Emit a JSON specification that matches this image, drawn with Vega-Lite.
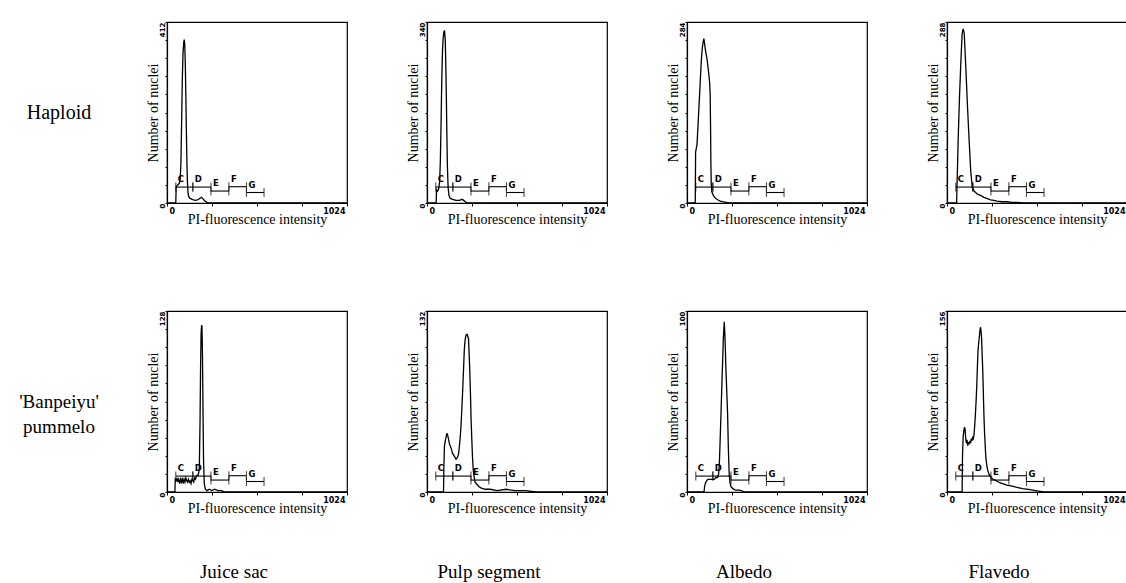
{
"$schema":"https://vega.github.io/schema/vega-lite/v6.json",
"background":"white",
"padding":{"left":0,"top":20,"right":0,"bottom":0},
"datasets":{
"gates":[
{"g":"C","x0":50,"x1":147,"lv":0.088},
{"g":"D","x0":147,"x1":250,"lv":0.088},
{"g":"E","x0":250,"x1":352,"lv":0.066},
{"g":"F","x0":352,"x1":452,"lv":0.09},
{"g":"G","x0":452,"x1":552,"lv":0.058}
],
"hist":[
{"p":"h1","x":0,"n":0},{"p":"h1","x":50,"n":0},{"p":"h1","x":52,"n":36},{"p":"h1","x":58,"n":40},{"p":"h1","x":64,"n":42},{"p":"h1","x":70,"n":45},{"p":"h1","x":75,"n":55},{"p":"h1","x":79,"n":90},{"p":"h1","x":83,"n":180},{"p":"h1","x":87,"n":280},{"p":"h1","x":91,"n":340},{"p":"h1","x":95,"n":365},{"p":"h1","x":98,"n":372},{"p":"h1","x":101,"n":360},{"p":"h1","x":104,"n":320},{"p":"h1","x":107,"n":250},{"p":"h1","x":110,"n":170},{"p":"h1","x":113,"n":100},{"p":"h1","x":116,"n":50},{"p":"h1","x":119,"n":25},{"p":"h1","x":123,"n":15},{"p":"h1","x":130,"n":11},{"p":"h1","x":140,"n":9},{"p":"h1","x":150,"n":7},{"p":"h1","x":165,"n":6},{"p":"h1","x":178,"n":8},{"p":"h1","x":188,"n":11},{"p":"h1","x":196,"n":13},{"p":"h1","x":204,"n":10},{"p":"h1","x":214,"n":5},{"p":"h1","x":225,"n":2},{"p":"h1","x":236,"n":0},{"p":"h1","x":1024,"n":0},
{"p":"h2","x":0,"n":0},{"p":"h2","x":52,"n":0},{"p":"h2","x":54,"n":25},{"p":"h2","x":60,"n":22},{"p":"h2","x":66,"n":26},{"p":"h2","x":72,"n":40},{"p":"h2","x":76,"n":80},{"p":"h2","x":80,"n":150},{"p":"h2","x":84,"n":230},{"p":"h2","x":88,"n":285},{"p":"h2","x":92,"n":310},{"p":"h2","x":96,"n":322},{"p":"h2","x":100,"n":323},{"p":"h2","x":104,"n":305},{"p":"h2","x":107,"n":260},{"p":"h2","x":110,"n":200},{"p":"h2","x":113,"n":130},{"p":"h2","x":116,"n":70},{"p":"h2","x":120,"n":30},{"p":"h2","x":125,"n":14},{"p":"h2","x":132,"n":9},{"p":"h2","x":145,"n":7},{"p":"h2","x":165,"n":5},{"p":"h2","x":185,"n":5},{"p":"h2","x":200,"n":7},{"p":"h2","x":212,"n":4},{"p":"h2","x":222,"n":1},{"p":"h2","x":230,"n":0},{"p":"h2","x":1024,"n":0},
{"p":"h3","x":0,"n":0},{"p":"h3","x":47,"n":0},{"p":"h3","x":49,"n":80},{"p":"h3","x":53,"n":86},{"p":"h3","x":57,"n":92},{"p":"h3","x":62,"n":118},{"p":"h3","x":67,"n":145},{"p":"h3","x":72,"n":172},{"p":"h3","x":77,"n":200},{"p":"h3","x":82,"n":226},{"p":"h3","x":87,"n":243},{"p":"h3","x":92,"n":253},{"p":"h3","x":96,"n":258},{"p":"h3","x":100,"n":250},{"p":"h3","x":105,"n":240},{"p":"h3","x":110,"n":232},{"p":"h3","x":115,"n":224},{"p":"h3","x":120,"n":212},{"p":"h3","x":125,"n":200},{"p":"h3","x":129,"n":188},{"p":"h3","x":132,"n":170},{"p":"h3","x":134,"n":120},{"p":"h3","x":136,"n":60},{"p":"h3","x":138,"n":30},{"p":"h3","x":141,"n":18},{"p":"h3","x":150,"n":12},{"p":"h3","x":160,"n":8},{"p":"h3","x":174,"n":5},{"p":"h3","x":190,"n":3},{"p":"h3","x":203,"n":2},{"p":"h3","x":222,"n":1},{"p":"h3","x":240,"n":0},{"p":"h3","x":1024,"n":0},
{"p":"h4","x":0,"n":0},{"p":"h4","x":55,"n":0},{"p":"h4","x":57,"n":30},{"p":"h4","x":60,"n":60},{"p":"h4","x":64,"n":105},{"p":"h4","x":71,"n":168},{"p":"h4","x":79,"n":226},{"p":"h4","x":86,"n":269},{"p":"h4","x":92,"n":277},{"p":"h4","x":98,"n":270},{"p":"h4","x":107,"n":216},{"p":"h4","x":116,"n":157},{"p":"h4","x":126,"n":99},{"p":"h4","x":135,"n":51},{"p":"h4","x":144,"n":24},{"p":"h4","x":154,"n":19},{"p":"h4","x":173,"n":14},{"p":"h4","x":191,"n":12},{"p":"h4","x":210,"n":9},{"p":"h4","x":229,"n":7},{"p":"h4","x":248,"n":5},{"p":"h4","x":266,"n":4},{"p":"h4","x":285,"n":3},{"p":"h4","x":313,"n":2},{"p":"h4","x":341,"n":2},{"p":"h4","x":370,"n":1},{"p":"h4","x":398,"n":1},{"p":"h4","x":435,"n":0},{"p":"h4","x":1024,"n":0},
{"p":"b1","x":0,"n":0},{"p":"b1","x":45,"n":0},{"p":"b1","x":47,"n":9},{"p":"b1","x":52,"n":8},{"p":"b1","x":57,"n":10},{"p":"b1","x":62,"n":7},{"p":"b1","x":67,"n":9},{"p":"b1","x":72,"n":6},{"p":"b1","x":77,"n":9},{"p":"b1","x":82,"n":7},{"p":"b1","x":87,"n":10},{"p":"b1","x":92,"n":6},{"p":"b1","x":97,"n":9},{"p":"b1","x":102,"n":7},{"p":"b1","x":107,"n":10},{"p":"b1","x":112,"n":8},{"p":"b1","x":117,"n":7},{"p":"b1","x":122,"n":9},{"p":"b1","x":127,"n":7},{"p":"b1","x":132,"n":8},{"p":"b1","x":137,"n":6},{"p":"b1","x":142,"n":9},{"p":"b1","x":147,"n":8},{"p":"b1","x":152,"n":7},{"p":"b1","x":157,"n":10},{"p":"b1","x":162,"n":9},{"p":"b1","x":167,"n":11},{"p":"b1","x":172,"n":12},{"p":"b1","x":177,"n":12},{"p":"b1","x":181,"n":14},{"p":"b1","x":184,"n":18},{"p":"b1","x":188,"n":50},{"p":"b1","x":191,"n":88},{"p":"b1","x":194,"n":112},{"p":"b1","x":197,"n":118},{"p":"b1","x":199,"n":117},{"p":"b1","x":202,"n":95},{"p":"b1","x":205,"n":55},{"p":"b1","x":208,"n":22},{"p":"b1","x":212,"n":6},{"p":"b1","x":218,"n":2},{"p":"b1","x":228,"n":1},{"p":"b1","x":240,"n":2},{"p":"b1","x":255,"n":1},{"p":"b1","x":270,"n":2},{"p":"b1","x":290,"n":1},{"p":"b1","x":310,"n":1},{"p":"b1","x":330,"n":0},{"p":"b1","x":1024,"n":0},
{"p":"b2","x":0,"n":0},{"p":"b2","x":94,"n":0},{"p":"b2","x":96,"n":18},{"p":"b2","x":99,"n":33},{"p":"b2","x":105,"n":38},{"p":"b2","x":110,"n":41},{"p":"b2","x":114,"n":43},{"p":"b2","x":118,"n":41},{"p":"b2","x":122,"n":39},{"p":"b2","x":128,"n":35},{"p":"b2","x":137,"n":32},{"p":"b2","x":146,"n":28},{"p":"b2","x":156,"n":26},{"p":"b2","x":165,"n":24},{"p":"b2","x":173,"n":25},{"p":"b2","x":180,"n":28},{"p":"b2","x":184,"n":33},{"p":"b2","x":189,"n":40},{"p":"b2","x":193,"n":47},{"p":"b2","x":198,"n":60},{"p":"b2","x":203,"n":74},{"p":"b2","x":208,"n":90},{"p":"b2","x":212,"n":103},{"p":"b2","x":216,"n":110},{"p":"b2","x":221,"n":114},{"p":"b2","x":225,"n":115},{"p":"b2","x":229,"n":115},{"p":"b2","x":233,"n":113},{"p":"b2","x":236,"n":112},{"p":"b2","x":240,"n":100},{"p":"b2","x":244,"n":86},{"p":"b2","x":248,"n":68},{"p":"b2","x":251,"n":52},{"p":"b2","x":255,"n":38},{"p":"b2","x":259,"n":25},{"p":"b2","x":263,"n":16},{"p":"b2","x":268,"n":11},{"p":"b2","x":274,"n":7},{"p":"b2","x":281,"n":6},{"p":"b2","x":295,"n":4},{"p":"b2","x":306,"n":3},{"p":"b2","x":330,"n":2},{"p":"b2","x":360,"n":2},{"p":"b2","x":400,"n":1},{"p":"b2","x":450,"n":2},{"p":"b2","x":500,"n":1},{"p":"b2","x":560,"n":1},{"p":"b2","x":620,"n":0},{"p":"b2","x":1024,"n":0},
{"p":"b3","x":0,"n":0},{"p":"b3","x":97,"n":0},{"p":"b3","x":100,"n":3},{"p":"b3","x":105,"n":5},{"p":"b3","x":111,"n":6},{"p":"b3","x":118,"n":7},{"p":"b3","x":126,"n":7},{"p":"b3","x":135,"n":7},{"p":"b3","x":146,"n":7},{"p":"b3","x":155,"n":7},{"p":"b3","x":165,"n":8},{"p":"b3","x":174,"n":8},{"p":"b3","x":180,"n":10},{"p":"b3","x":185,"n":18},{"p":"b3","x":189,"n":30},{"p":"b3","x":194,"n":45},{"p":"b3","x":199,"n":61},{"p":"b3","x":203,"n":73},{"p":"b3","x":206,"n":83},{"p":"b3","x":209,"n":89},{"p":"b3","x":212,"n":94},{"p":"b3","x":215,"n":88},{"p":"b3","x":218,"n":80},{"p":"b3","x":221,"n":69},{"p":"b3","x":226,"n":56},{"p":"b3","x":231,"n":43},{"p":"b3","x":235,"n":25},{"p":"b3","x":240,"n":10},{"p":"b3","x":245,"n":5},{"p":"b3","x":250,"n":3},{"p":"b3","x":260,"n":2},{"p":"b3","x":275,"n":1},{"p":"b3","x":300,"n":1},{"p":"b3","x":330,"n":0},{"p":"b3","x":1024,"n":0},
{"p":"b4","x":0,"n":0},{"p":"b4","x":86,"n":0},{"p":"b4","x":88,"n":30},{"p":"b4","x":92,"n":48},{"p":"b4","x":96,"n":53},{"p":"b4","x":100,"n":56},{"p":"b4","x":103,"n":54},{"p":"b4","x":106,"n":47},{"p":"b4","x":110,"n":42},{"p":"b4","x":114,"n":45},{"p":"b4","x":118,"n":40},{"p":"b4","x":122,"n":43},{"p":"b4","x":126,"n":41},{"p":"b4","x":130,"n":44},{"p":"b4","x":134,"n":42},{"p":"b4","x":138,"n":46},{"p":"b4","x":142,"n":44},{"p":"b4","x":146,"n":47},{"p":"b4","x":150,"n":46},{"p":"b4","x":154,"n":50},{"p":"b4","x":158,"n":58},{"p":"b4","x":162,"n":68},{"p":"b4","x":166,"n":80},{"p":"b4","x":169,"n":90},{"p":"b4","x":173,"n":108},{"p":"b4","x":176,"n":121},{"p":"b4","x":180,"n":128},{"p":"b4","x":184,"n":134},{"p":"b4","x":188,"n":140},{"p":"b4","x":191,"n":142},{"p":"b4","x":194,"n":138},{"p":"b4","x":197,"n":132},{"p":"b4","x":200,"n":118},{"p":"b4","x":203,"n":107},{"p":"b4","x":206,"n":90},{"p":"b4","x":208,"n":78},{"p":"b4","x":211,"n":62},{"p":"b4","x":214,"n":50},{"p":"b4","x":218,"n":38},{"p":"b4","x":221,"n":30},{"p":"b4","x":227,"n":22},{"p":"b4","x":233,"n":18},{"p":"b4","x":240,"n":15},{"p":"b4","x":248,"n":13},{"p":"b4","x":262,"n":11},{"p":"b4","x":276,"n":10},{"p":"b4","x":300,"n":8},{"p":"b4","x":320,"n":7},{"p":"b4","x":341,"n":6},{"p":"b4","x":370,"n":5},{"p":"b4","x":398,"n":4},{"p":"b4","x":430,"n":3},{"p":"b4","x":473,"n":2},{"p":"b4","x":510,"n":1},{"p":"b4","x":550,"n":0},{"p":"b4","x":1024,"n":0}
]},
"columns":5,
"spacing":{"row":108,"column":80},
"bounds":"flush",
"concat":[
{"width":87,"height":181,"view":{"stroke":null,"fill":"white"},"data":{"values":[{"t":"Haploid"}]},"mark":{"type":"text","font":"Liberation Serif","fontSize":20,"dx":15.5,"color":"black","align":"center","baseline":"middle"},"encoding":{"text":{"field":"t"}}},
{"width":180,"height":181,"layer":[
 {"data":{"name":"hist"},"transform":[{"filter":"datum.p=='h1'"}],"mark":{"type":"line","color":"black","strokeWidth":1.3},
  "encoding":{"x":{"field":"x","type":"quantitative","scale":{"domain":[0,1024],"nice":false},"axis":{"values":[0,256,512,768,1024],"labelExpr":"datum.value==0?'0':datum.value==1024?'1024':''","title":"PI-fluorescence intensity"}},
  "y":{"field":"n","type":"quantitative","scale":{"domain":[0,412],"nice":false},"axis":{"values":[0,41.2,82.4,123.6,164.8,206,247.2,288.4,329.6,370.8,412],"labelExpr":"datum.value==0||datum.value==412?datum.label:''","title":"Number of nuclei"}}}},
 {"data":{"name":"gates"},"encoding":{"y":{"field":"lv","type":"quantitative","scale":{"domain":[0,1]},"axis":null}},"layer":[
  {"mark":{"type":"rule","color":"black","strokeWidth":1.1},"encoding":{"x":{"field":"x0","type":"quantitative","scale":{"domain":[0,1024],"nice":false}},"x2":{"field":"x1"}}},
  {"mark":{"type":"tick","orient":"vertical","color":"black","size":9,"thickness":1.1},"encoding":{"x":{"field":"x0","type":"quantitative"}}},
  {"mark":{"type":"tick","orient":"vertical","color":"black","size":9,"thickness":1.1},"encoding":{"x":{"field":"x1","type":"quantitative"}}},
  {"mark":{"type":"text","align":"left","baseline":"bottom","dx":2,"dy":-3,"font":"DejaVu Sans","fontSize":8.5,"fontWeight":"bold","color":"black"},"encoding":{"x":{"field":"x0","type":"quantitative"},"text":{"field":"g"}}}]}
 ],"resolve":{"scale":{"y":"independent"}}},
{"width":180,"height":181,"layer":[
 {"data":{"name":"hist"},"transform":[{"filter":"datum.p=='h2'"}],"mark":{"type":"line","color":"black","strokeWidth":1.3},
  "encoding":{"x":{"field":"x","type":"quantitative","scale":{"domain":[0,1024],"nice":false},"axis":{"values":[0,256,512,768,1024],"labelExpr":"datum.value==0?'0':datum.value==1024?'1024':''","title":"PI-fluorescence intensity"}},
  "y":{"field":"n","type":"quantitative","scale":{"domain":[0,340],"nice":false},"axis":{"values":[0,34,68,102,136,170,204,238,272,306,340],"labelExpr":"datum.value==0||datum.value==340?datum.label:''","title":"Number of nuclei"}}}},
 {"data":{"name":"gates"},"encoding":{"y":{"field":"lv","type":"quantitative","scale":{"domain":[0,1]},"axis":null}},"layer":[
  {"mark":{"type":"rule","color":"black","strokeWidth":1.1},"encoding":{"x":{"field":"x0","type":"quantitative","scale":{"domain":[0,1024],"nice":false}},"x2":{"field":"x1"}}},
  {"mark":{"type":"tick","orient":"vertical","color":"black","size":9,"thickness":1.1},"encoding":{"x":{"field":"x0","type":"quantitative"}}},
  {"mark":{"type":"tick","orient":"vertical","color":"black","size":9,"thickness":1.1},"encoding":{"x":{"field":"x1","type":"quantitative"}}},
  {"mark":{"type":"text","align":"left","baseline":"bottom","dx":2,"dy":-3,"font":"DejaVu Sans","fontSize":8.5,"fontWeight":"bold","color":"black"},"encoding":{"x":{"field":"x0","type":"quantitative"},"text":{"field":"g"}}}]}
 ],"resolve":{"scale":{"y":"independent"}}},
{"width":180,"height":181,"layer":[
 {"data":{"name":"hist"},"transform":[{"filter":"datum.p=='h3'"}],"mark":{"type":"line","color":"black","strokeWidth":1.3},
  "encoding":{"x":{"field":"x","type":"quantitative","scale":{"domain":[0,1024],"nice":false},"axis":{"values":[0,256,512,768,1024],"labelExpr":"datum.value==0?'0':datum.value==1024?'1024':''","title":"PI-fluorescence intensity"}},
  "y":{"field":"n","type":"quantitative","scale":{"domain":[0,284],"nice":false},"axis":{"values":[0,28.4,56.8,85.2,113.6,142,170.4,198.8,227.2,255.6,284],"labelExpr":"datum.value==0||datum.value==284?datum.label:''","title":"Number of nuclei"}}}},
 {"data":{"name":"gates"},"encoding":{"y":{"field":"lv","type":"quantitative","scale":{"domain":[0,1]},"axis":null}},"layer":[
  {"mark":{"type":"rule","color":"black","strokeWidth":1.1},"encoding":{"x":{"field":"x0","type":"quantitative","scale":{"domain":[0,1024],"nice":false}},"x2":{"field":"x1"}}},
  {"mark":{"type":"tick","orient":"vertical","color":"black","size":9,"thickness":1.1},"encoding":{"x":{"field":"x0","type":"quantitative"}}},
  {"mark":{"type":"tick","orient":"vertical","color":"black","size":9,"thickness":1.1},"encoding":{"x":{"field":"x1","type":"quantitative"}}},
  {"mark":{"type":"text","align":"left","baseline":"bottom","dx":2,"dy":-3,"font":"DejaVu Sans","fontSize":8.5,"fontWeight":"bold","color":"black"},"encoding":{"x":{"field":"x0","type":"quantitative"},"text":{"field":"g"}}}]}
 ],"resolve":{"scale":{"y":"independent"}}},
{"width":180,"height":181,"layer":[
 {"data":{"name":"hist"},"transform":[{"filter":"datum.p=='h4'"}],"mark":{"type":"line","color":"black","strokeWidth":1.3},
  "encoding":{"x":{"field":"x","type":"quantitative","scale":{"domain":[0,1024],"nice":false},"axis":{"values":[0,256,512,768,1024],"labelExpr":"datum.value==0?'0':datum.value==1024?'1024':''","title":"PI-fluorescence intensity"}},
  "y":{"field":"n","type":"quantitative","scale":{"domain":[0,288],"nice":false},"axis":{"values":[0,28.8,57.6,86.4,115.2,144,172.8,201.6,230.4,259.2,288],"labelExpr":"datum.value==0||datum.value==288?datum.label:''","title":"Number of nuclei"}}}},
 {"data":{"name":"gates"},"encoding":{"y":{"field":"lv","type":"quantitative","scale":{"domain":[0,1]},"axis":null}},"layer":[
  {"mark":{"type":"rule","color":"black","strokeWidth":1.1},"encoding":{"x":{"field":"x0","type":"quantitative","scale":{"domain":[0,1024],"nice":false}},"x2":{"field":"x1"}}},
  {"mark":{"type":"tick","orient":"vertical","color":"black","size":9,"thickness":1.1},"encoding":{"x":{"field":"x0","type":"quantitative"}}},
  {"mark":{"type":"tick","orient":"vertical","color":"black","size":9,"thickness":1.1},"encoding":{"x":{"field":"x1","type":"quantitative"}}},
  {"mark":{"type":"text","align":"left","baseline":"bottom","dx":2,"dy":-3,"font":"DejaVu Sans","fontSize":8.5,"fontWeight":"bold","color":"black"},"encoding":{"x":{"field":"x0","type":"quantitative"},"text":{"field":"g"}}}]}
 ],"resolve":{"scale":{"y":"independent"}}},
{"width":87,"height":181,"view":{"stroke":null,"fill":"white"},"data":{"values":[{"t":["'Banpeiyu'","pummelo"]}]},"mark":{"type":"text","font":"Liberation Serif","fontSize":19,"lineHeight":25,"dx":15.5,"color":"black","align":"center","baseline":"middle"},"encoding":{"text":{"field":"t"}}},
{"width":180,"height":181,"title":{"text":"Juice sac","dx":-23},"layer":[
 {"data":{"name":"hist"},"transform":[{"filter":"datum.p=='b1'"}],"mark":{"type":"line","color":"black","strokeWidth":1.3},
  "encoding":{"x":{"field":"x","type":"quantitative","scale":{"domain":[0,1024],"nice":false},"axis":{"values":[0,256,512,768,1024],"labelExpr":"datum.value==0?'0':datum.value==1024?'1024':''","title":"PI-fluorescence intensity"}},
  "y":{"field":"n","type":"quantitative","scale":{"domain":[0,128],"nice":false},"axis":{"values":[0,12.8,25.6,38.4,51.2,64,76.8,89.6,102.4,115.2,128],"labelExpr":"datum.value==0||datum.value==128?datum.label:''","title":"Number of nuclei"}}}},
 {"data":{"name":"gates"},"encoding":{"y":{"field":"lv","type":"quantitative","scale":{"domain":[0,1]},"axis":null}},"layer":[
  {"mark":{"type":"rule","color":"black","strokeWidth":1.1},"encoding":{"x":{"field":"x0","type":"quantitative","scale":{"domain":[0,1024],"nice":false}},"x2":{"field":"x1"}}},
  {"mark":{"type":"tick","orient":"vertical","color":"black","size":9,"thickness":1.1},"encoding":{"x":{"field":"x0","type":"quantitative"}}},
  {"mark":{"type":"tick","orient":"vertical","color":"black","size":9,"thickness":1.1},"encoding":{"x":{"field":"x1","type":"quantitative"}}},
  {"mark":{"type":"text","align":"left","baseline":"bottom","dx":2,"dy":-3,"font":"DejaVu Sans","fontSize":8.5,"fontWeight":"bold","color":"black"},"encoding":{"x":{"field":"x0","type":"quantitative"},"text":{"field":"g"}}}]}
 ],"resolve":{"scale":{"y":"independent"}}},
{"width":180,"height":181,"title":{"text":"Pulp segment","dx":-28},"layer":[
 {"data":{"name":"hist"},"transform":[{"filter":"datum.p=='b2'"}],"mark":{"type":"line","color":"black","strokeWidth":1.3},
  "encoding":{"x":{"field":"x","type":"quantitative","scale":{"domain":[0,1024],"nice":false},"axis":{"values":[0,256,512,768,1024],"labelExpr":"datum.value==0?'0':datum.value==1024?'1024':''","title":"PI-fluorescence intensity"}},
  "y":{"field":"n","type":"quantitative","scale":{"domain":[0,132],"nice":false},"axis":{"values":[0,13.2,26.4,39.6,52.8,66,79.2,92.4,105.6,118.8,132],"labelExpr":"datum.value==0||datum.value==132?datum.label:''","title":"Number of nuclei"}}}},
 {"data":{"name":"gates"},"encoding":{"y":{"field":"lv","type":"quantitative","scale":{"domain":[0,1]},"axis":null}},"layer":[
  {"mark":{"type":"rule","color":"black","strokeWidth":1.1},"encoding":{"x":{"field":"x0","type":"quantitative","scale":{"domain":[0,1024],"nice":false}},"x2":{"field":"x1"}}},
  {"mark":{"type":"tick","orient":"vertical","color":"black","size":9,"thickness":1.1},"encoding":{"x":{"field":"x0","type":"quantitative"}}},
  {"mark":{"type":"tick","orient":"vertical","color":"black","size":9,"thickness":1.1},"encoding":{"x":{"field":"x1","type":"quantitative"}}},
  {"mark":{"type":"text","align":"left","baseline":"bottom","dx":2,"dy":-3,"font":"DejaVu Sans","fontSize":8.5,"fontWeight":"bold","color":"black"},"encoding":{"x":{"field":"x0","type":"quantitative"},"text":{"field":"g"}}}]}
 ],"resolve":{"scale":{"y":"independent"}}},
{"width":180,"height":181,"title":{"text":"Albedo","dx":-33},"layer":[
 {"data":{"name":"hist"},"transform":[{"filter":"datum.p=='b3'"}],"mark":{"type":"line","color":"black","strokeWidth":1.3},
  "encoding":{"x":{"field":"x","type":"quantitative","scale":{"domain":[0,1024],"nice":false},"axis":{"values":[0,256,512,768,1024],"labelExpr":"datum.value==0?'0':datum.value==1024?'1024':''","title":"PI-fluorescence intensity"}},
  "y":{"field":"n","type":"quantitative","scale":{"domain":[0,100],"nice":false},"axis":{"values":[0,10,20,30,40,50,60,70,80,90,100],"labelExpr":"datum.value==0||datum.value==100?datum.label:''","title":"Number of nuclei"}}}},
 {"data":{"name":"gates"},"encoding":{"y":{"field":"lv","type":"quantitative","scale":{"domain":[0,1]},"axis":null}},"layer":[
  {"mark":{"type":"rule","color":"black","strokeWidth":1.1},"encoding":{"x":{"field":"x0","type":"quantitative","scale":{"domain":[0,1024],"nice":false}},"x2":{"field":"x1"}}},
  {"mark":{"type":"tick","orient":"vertical","color":"black","size":9,"thickness":1.1},"encoding":{"x":{"field":"x0","type":"quantitative"}}},
  {"mark":{"type":"tick","orient":"vertical","color":"black","size":9,"thickness":1.1},"encoding":{"x":{"field":"x1","type":"quantitative"}}},
  {"mark":{"type":"text","align":"left","baseline":"bottom","dx":2,"dy":-3,"font":"DejaVu Sans","fontSize":8.5,"fontWeight":"bold","color":"black"},"encoding":{"x":{"field":"x0","type":"quantitative"},"text":{"field":"g"}}}]}
 ],"resolve":{"scale":{"y":"independent"}}},
{"width":180,"height":181,"title":{"text":"Flavedo","dx":-38},"layer":[
 {"data":{"name":"hist"},"transform":[{"filter":"datum.p=='b4'"}],"mark":{"type":"line","color":"black","strokeWidth":1.3},
  "encoding":{"x":{"field":"x","type":"quantitative","scale":{"domain":[0,1024],"nice":false},"axis":{"values":[0,256,512,768,1024],"labelExpr":"datum.value==0?'0':datum.value==1024?'1024':''","title":"PI-fluorescence intensity"}},
  "y":{"field":"n","type":"quantitative","scale":{"domain":[0,156],"nice":false},"axis":{"values":[0,15.6,31.2,46.8,62.4,78,93.6,109.2,124.8,140.4,156],"labelExpr":"datum.value==0||datum.value==156?datum.label:''","title":"Number of nuclei"}}}},
 {"data":{"name":"gates"},"encoding":{"y":{"field":"lv","type":"quantitative","scale":{"domain":[0,1]},"axis":null}},"layer":[
  {"mark":{"type":"rule","color":"black","strokeWidth":1.1},"encoding":{"x":{"field":"x0","type":"quantitative","scale":{"domain":[0,1024],"nice":false}},"x2":{"field":"x1"}}},
  {"mark":{"type":"tick","orient":"vertical","color":"black","size":9,"thickness":1.1},"encoding":{"x":{"field":"x0","type":"quantitative"}}},
  {"mark":{"type":"tick","orient":"vertical","color":"black","size":9,"thickness":1.1},"encoding":{"x":{"field":"x1","type":"quantitative"}}},
  {"mark":{"type":"text","align":"left","baseline":"bottom","dx":2,"dy":-3,"font":"DejaVu Sans","fontSize":8.5,"fontWeight":"bold","color":"black"},"encoding":{"x":{"field":"x0","type":"quantitative"},"text":{"field":"g"}}}]}
 ],"resolve":{"scale":{"y":"independent"}}}
],
"config":{
 "view":{"stroke":"black","strokeWidth":1.2},
 "style":{"guide-title":{"font":"Liberation Serif","fontSize":14,"fontWeight":"normal","fill":"black"}},
 "axis":{"grid":false,"domainColor":"black","domainWidth":1.2,"tickColor":"black","tickSize":3,"labelColor":"black","titleColor":"black","labelFont":"DejaVu Sans","labelFontSize":8,"labelFontWeight":"bold","titleFont":"Liberation Serif","titleFontSize":14,"titleFontWeight":"normal"},
 "axisX":{"labelFlush":true,"labelFlushOffset":-2,"labelPadding":1,"titlePadding":-3,"titleFont":"Liberation Serif","titleFontSize":14,"titleFontWeight":"normal"},
 "axisY":{"labelAngle":-90,"labelAlign":"right","labelBaseline":"bottom","labelFontSize":7,"tickSize":2,"labelPadding":0,"titlePadding":-2,"titleFont":"Liberation Serif","titleFontSize":14,"titleFontWeight":"normal"},
 "title":{"font":"Liberation Serif","fontSize":19,"fontWeight":"normal","color":"black","orient":"bottom","offset":48}
}
}
